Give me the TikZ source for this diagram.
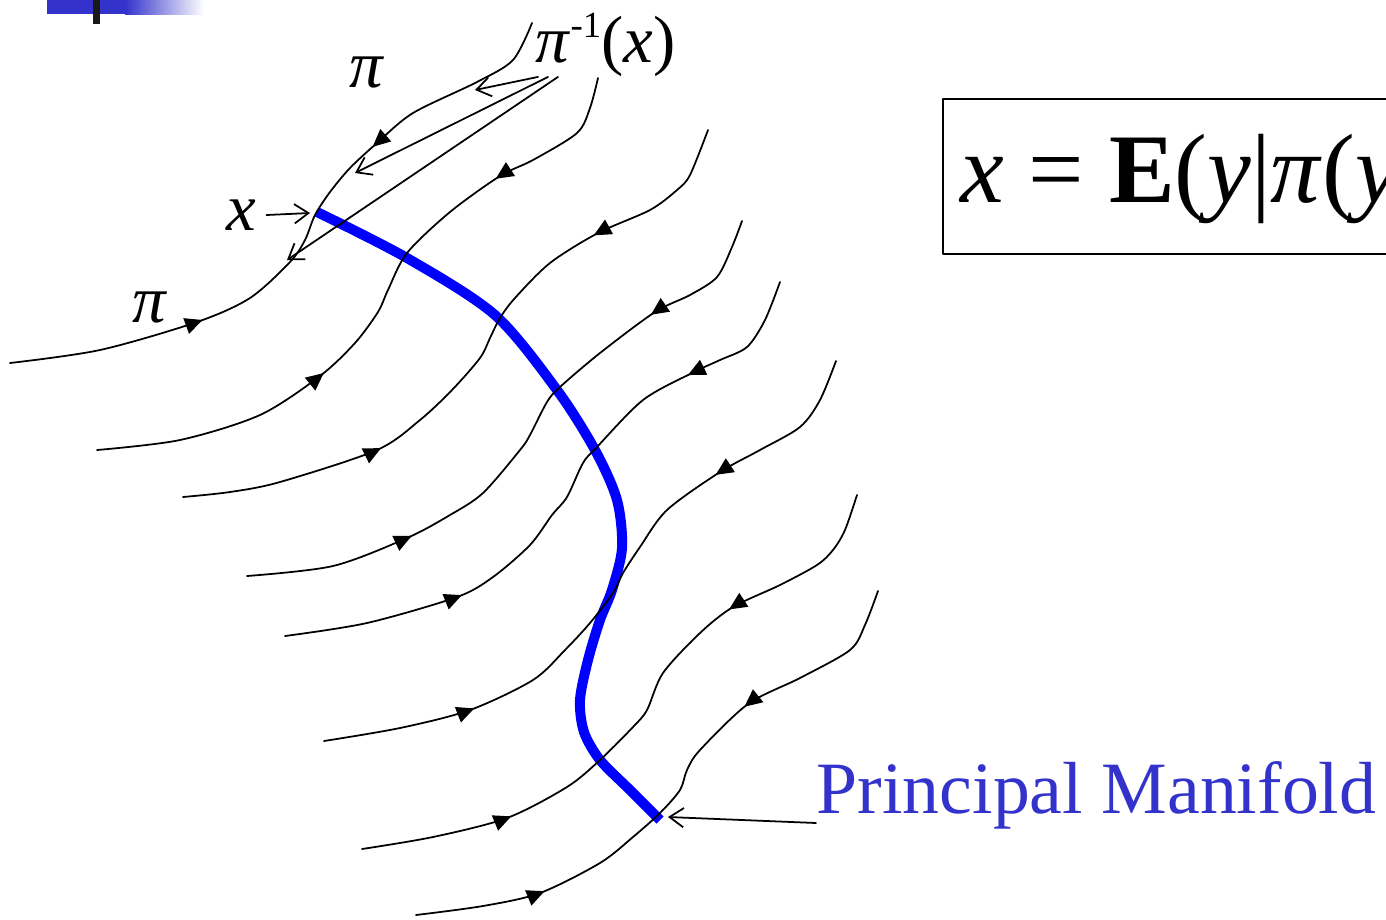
\documentclass[tikz,border=0pt]{standalone}
\usepackage{fontspec}
\setmainfont{Liberation Serif}
\usetikzlibrary{arrows.meta}
\usetikzlibrary{decorations.markings}
\definecolor{slideblue}{RGB}{51,51,204}

\newcommand{\flowline}[3]{%
  \draw[flow,postaction={decorate,decoration={markings,
    mark=at position #2 with {\arrow{Triangle[length=5pt,width=4.6pt]}},
    mark=at position #3 with {\arrowreversed{Triangle[length=5pt,width=4.6pt]}}}}]
    plot[smooth] coordinates {#1};}

\begin{document}
\begin{tikzpicture}[x=0.1mm,y=-0.1mm,line cap=round,line join=round,
  flow/.style={line width=0.5pt,black},
  pointer/.style={line width=0.5pt,-{Straight Barb[length=4pt,width=5.5pt]}},
  manifold/.style={line width=1mm,blue,line cap=butt},
  label/.style={inner sep=0pt,font=\fontsize{19pt}{23pt}\selectfont}]
\path[use as bounding box] (0,0) rectangle (1386,919);
\clip (0,0) rectangle (1386,919);

\fill[slideblue] (47,0) rectangle (126,14);
\shade[left color=slideblue,right color=white] (125,0) rectangle (204,14);
\fill[black!90] (93,0) rectangle (100,24);

\draw[manifold] plot[smooth] coordinates {(317,212) (407,258) (495,315) (557,390)
  (595,450) (617,500) (622,548) (612,590) (600,620) (588,660) (580,700) (584,732)
  (600,760) (630,790) (660,820)};

\flowline{(10,363) (100,350) (197,322) (250,298) (290,262) (305,240) (315,215)
  (330,192) (350,168) (377,143) (413,113) (477,82) (513,60) (532,23)}{19.8mm}{-20.8mm}
\flowline{(97,450) (180,440) (260,415) (320,376) (355,343) (378,312) (388,290)
  (407,253) (450,212) (500,176) (533,160) (577,133) (590,108) (598,78)}{24.4mm}{-15.3mm}
\flowline{(183,497) (230,492) (280,482) (377,450) (420,420) (452,390) (480,358) (490,338)
  (500,318) (515,298) (550,263) (598,233) (650,210) (677,190) (690,175) (708,130)}{20.5mm}{-16.4mm}
\flowline{(247,576) (333,566) (407,538) (450,515) (483,493) (520,450) (530,435)
  (547,402) (560,387) (600,353) (655,312) (690,295) (717,277) (732,247) (742,221)}{17.1mm}{-13.8mm}
\flowline{(285,636) (367,623) (457,597) (493,577) (530,545) (552,515) (567,497)
  (583,463) (597,447) (643,400) (692,373) (720,360) (747,347) (765,320) (780,282)}{18.2mm}{-13.9mm}
\flowline{(324,741) (400,728) (470,710) (533,680) (565,650) (590,623) (613,593)
  (623,573) (640,547) (667,510) (720,472) (760,450) (800,427) (820,400) (836,361)}{15.4mm}{-17.3mm}
\flowline{(362,849) (433,837) (507,818) (567,787) (600,760) (633,727) (647,710)
  (663,673) (700,633) (733,607) (780,585) (817,565) (833,550) (845,530) (857,495)}{15.3mm}{-18.1mm}
\flowline{(416,915) (483,906) (540,893) (600,863) (633,837) (660,813) (680,790)
  (687,770) (700,750) (748,704) (800,678) (850,650) (865,625) (878,591)}{13.1mm}{-18.6mm}

\node[label] (piup) at (367,72) {\textit{π}};
\node[label] (pilow) at (150,307) {\textit{π}};
\node[label] (xlab) at (241,215) {\textit{x}};
\node[label,anchor=base west] (pinv) at (535,62)
  {\textit{π}\raisebox{7pt}{\fontsize{10.5pt}{12pt}\selectfont -1}(\textit{x})};

\coordinate (xpt) at (310,213);
\coordinate (pa) at (475,90);
\coordinate (pb) at (355,173);
\coordinate (pc) at (287,260);
\draw[pointer] ([xshift=1mm]xlab.east) -- (xpt);
\draw[pointer] ([xshift=0.3mm]pinv.south west) -- (pa);
\draw[pointer] ([xshift=1.3mm]pinv.south west) -- (pb);
\draw[pointer] ([xshift=2.3mm]pinv.south west) -- (pc);

\node[anchor=base west,inner sep=0pt,font=\fontsize{28pt}{34pt}\selectfont] (cond)
  at (960,202) {\textit{x} = \textbf{E}(\textit{y}|\textit{π}(\textit{y}};
\draw[line width=0.6pt] (943,99) rectangle (1400,254);

\node[anchor=base west,inner sep=0pt,text=slideblue,
  font=\fontsize{21pt}{25pt}\selectfont] (pm) at (816,813) {Principal Manifold};
\coordinate (mend) at (668,817);
\draw[pointer] ([yshift=-1mm]pm.base west) -- (mend);
\end{tikzpicture}
\end{document}
